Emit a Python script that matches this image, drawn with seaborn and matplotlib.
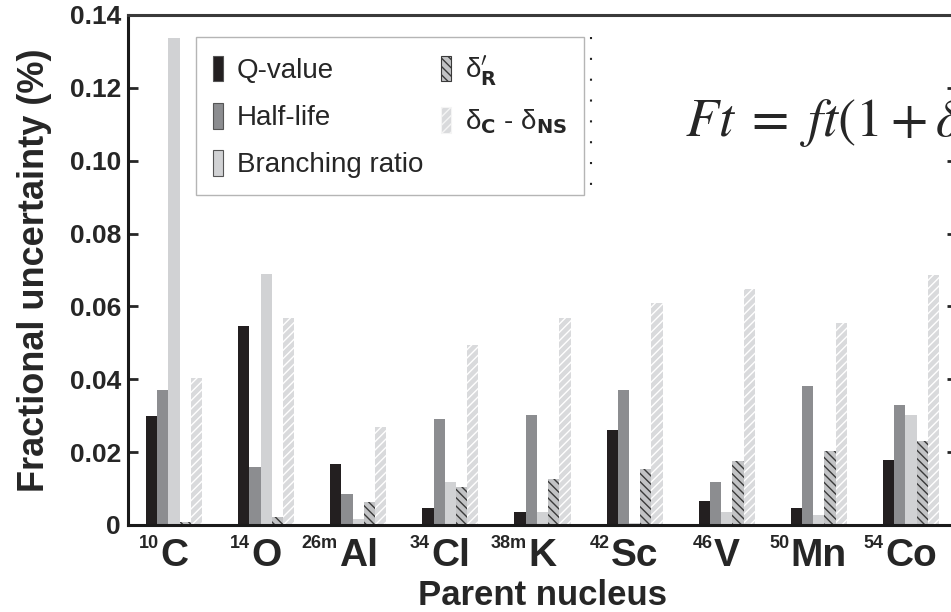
import matplotlib
matplotlib.use('Agg')
import matplotlib.pyplot as plt
from matplotlib.patches import Patch
import numpy as np
import pandas as pd
import seaborn as sns

# data
nuclei = ['C', 'O', 'Al', 'Cl', 'K', 'Sc', 'V', 'Mn', 'Co']
masses = ['10', '14', '26m', '34', '38m', '42', '46', '50', '54']
components = ['Q-value', 'Half-life', 'Branching ratio', 'dR', 'dC-dNS']
legend_labels = ['Q-value', 'Half-life', 'Branching ratio',
                 r'δ$^{\prime}_{\mathbf{R}}$',
                 r'δ$_{\mathbf{C}}$ - δ$_{\mathbf{NS}}$']
q_value = [0.0300, 0.0546, 0.0168, 0.0046, 0.0036, 0.0261, 0.0067, 0.0046, 0.0178]
half_life = [0.0371, 0.0158, 0.0086, 0.0290, 0.0301, 0.0371, 0.0118, 0.0382, 0.0329]
branching = [0.1337, 0.0688, 0.0016, 0.0118, 0.0037, 0.0006, 0.0037, 0.0027, 0.0301]
delta_r = [0.0009, 0.0021, 0.0062, 0.0103, 0.0126, 0.0153, 0.0176, 0.0203, 0.0231]
delta_c = [0.0404, 0.0567, 0.0270, 0.0494, 0.0567, 0.0609, 0.0647, 0.0554, 0.0685]
ytick_vals = [0, 0.02, 0.04, 0.06, 0.08, 0.10, 0.12, 0.14]
ytick_labels = ['0', '0.02', '0.04', '0.06', '0.08', '0.10', '0.12', '0.14']

colors = ['#231f20', '#8c8d90', '#d1d2d4', '#c2c3c5', '#d9dadc']
hatch_colors = [None, None, None, '#3a3a3a', 'white']
hatches = [None, None, None, '\\\\\\\\', '////']

sns.set_style('white')
plt.rcParams['font.family'] = ['Liberation Sans', 'DejaVu Sans']
plt.rcParams['hatch.linewidth'] = 1.0

rows = []
for vals, comp in zip([q_value, half_life, branching, delta_r, delta_c], components):
    for n, v in zip(nuclei, vals):
        rows.append({'Nucleus': n, 'Component': comp, 'Value': v})
misdatos = pd.DataFrame(rows)

fig = plt.figure(figsize=(9.51, 6.12), dpi=100)
ax = fig.add_axes([128/951, 87/612, 829/951, 510/612])

sns.barplot(data=misdatos, x='Nucleus', y='Value', hue='Component', order=nuclei,
            hue_order=components, palette=colors, saturation=1, width=0.61,
            linewidth=0, legend=False, ax=ax)

for cont, hc, h in zip(ax.containers, hatch_colors, hatches):
    if h is None:
        continue
    for bar in cont:
        bar.set_edgecolor(hc)
        bar.set_hatch(h)
        bar.set_linewidth(0)

ax.set_xlim(-0.5, 8.5)
ax.set_ylim(0, 0.14)
ax.set_yticks(ytick_vals)
ax.set_yticklabels(ytick_labels, fontsize=19, fontweight='bold')
ax.set_xticks(range(len(nuclei)))
ax.set_xticklabels(nuclei, fontsize=28, fontweight='bold')
ax.tick_params(axis='y', direction='in', length=7, width=2, pad=5,
               left=True, right=True)
ax.tick_params(axis='x', length=0, pad=9)

for side in ['left', 'bottom', 'top', 'right']:
    ax.spines[side].set_visible(True)
    ax.spines[side].set_linewidth(2.2)
    ax.spines[side].set_color('#1a1a1a')
ax.spines['top'].set_color('#3a3a3a')

ax.set_ylabel('Fractional uncertainty (%)', fontsize=26, fontweight='bold', labelpad=13)
ax.set_xlabel('Parent nucleus', fontsize=25, fontweight='bold', labelpad=4)

handles = []
for c, hc, h in zip(colors, hatch_colors, hatches):
    if h is None:
        handles.append(Patch(facecolor=c, edgecolor='#555555', linewidth=0.8))
    else:
        handles.append(Patch(facecolor=c, edgecolor=hc if hc != 'white' else '#f4f4f4',
                             hatch=h, linewidth=0.8))
leg = ax.legend(handles, legend_labels, ncol=2, loc='upper left',
                bbox_to_anchor=(68/829, (525-37)/510), borderaxespad=0,
                fontsize=20, handlelength=0.36, handleheight=1.05, handletextpad=0.5,
                labelspacing=0.68, columnspacing=0.65, borderpad=0.6,
                frameon=True, fancybox=False, framealpha=1)
leg.get_frame().set_edgecolor('#b5b5b5')
leg.get_frame().set_linewidth(1.0)

# sparse dotted mark beside the legend
ax.plot([463/829, 463/829], [(525-37)/510, (525-197)/510], transform=ax.transAxes,
        color='#222222', linestyle=(0, (1, 9)), linewidth=1.5, zorder=6)

# mass numbers as superscripts on the tick labels
fig.canvas.draw()
for lab, m in zip(ax.get_xticklabels(), masses):
    ax.annotate(m, xy=(0, 1), xycoords=lab, xytext=(-1, 2), textcoords='offset points',
                ha='right', va='top', fontsize=13, fontweight='bold')

fig.text(685/951, 1 - 137/612,
         r'$Ft\;=\;ft(1+\delta^{\prime}_{R})(1+\delta_{NS}-\delta_{C})$',
         fontsize=39, va='baseline', ha='left', math_fontfamily='stix')

plt.savefig('out.png', dpi=100)
